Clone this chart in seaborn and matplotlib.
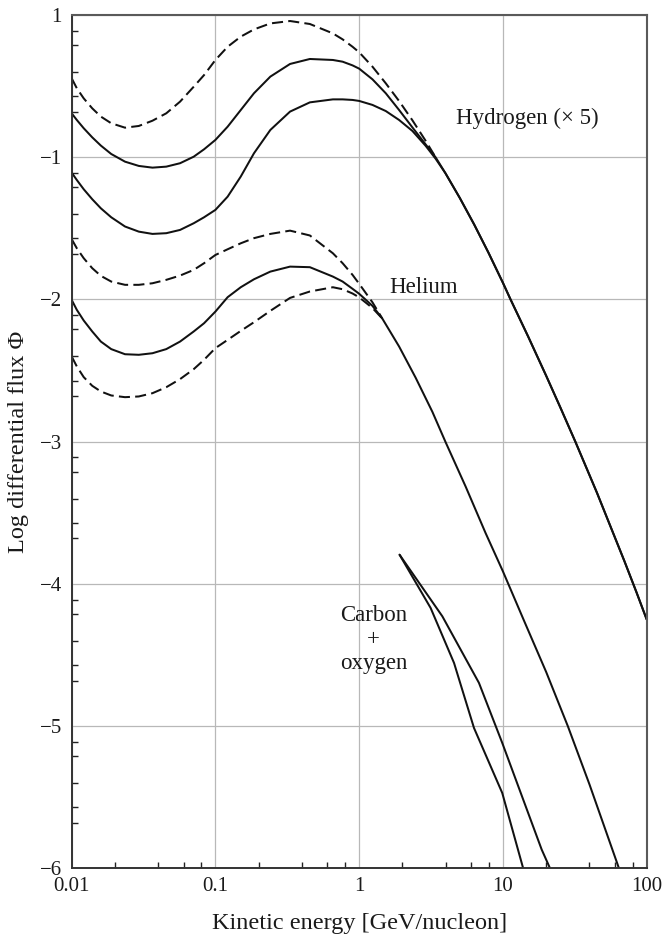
import pandas as pd
import matplotlib
matplotlib.use("Agg")
import matplotlib.pyplot as plt
from matplotlib.ticker import FixedLocator, NullFormatter
import seaborn as sns

# ---- spectra: kinetic energy [GeV/nucleon] vs log differential flux ----
# energies at which the low-energy (modulated) part of the curves is tabulated
E_low = [0.0100, 0.01086, 0.01213, 0.01390, 0.01596, 0.01884, 0.02350, 0.02931,
         0.03648, 0.04550, 0.05675, 0.07063, 0.08337, 0.1000, 0.1216, 0.1500,
         0.1854, 0.2410, 0.3304, 0.4539, 0.6561]

# Hydrogen (x5): maximum, intermediate and minimum solar modulation
h_max_y = [-0.445, -0.515, -0.586, -0.656, -0.714, -0.761, -0.792, -0.780, -0.743,
           -0.691, -0.609, -0.504, -0.422, -0.316, -0.223, -0.152, -0.101, -0.059,
           -0.042, -0.063, -0.129]
h_mid_y = [-0.691, -0.738, -0.796, -0.860, -0.918, -0.977, -1.031, -1.061, -1.073,
           -1.066, -1.042, -0.996, -0.944, -0.878, -0.785, -0.668, -0.550, -0.433,
           -0.344, -0.309, -0.316]
h_min_y = [-1.108, -1.160, -1.225, -1.295, -1.359, -1.422, -1.487, -1.523, -1.539,
           -1.534, -1.511, -1.464, -1.422, -1.370, -1.277, -1.136, -0.972, -0.808,
           -0.679, -0.614, -0.593]

# hydrogen between the peak and the point where the three curves join
E_h_fall = [0.767, 0.899, 1.0, 1.237, 1.531, 1.896, 2.345, 2.902, 3.4]
h_max_fall = [-0.171, -0.223, -0.262, -0.363, -0.480, -0.605, -0.740, -0.885, -1.0]
h_mid_fall = [-0.328, -0.354, -0.377, -0.452, -0.550, -0.668, -0.790, -0.910, -1.0]
h_min_fall = [-0.593, -0.597, -0.604, -0.632, -0.675, -0.738, -0.815, -0.920, -1.010]

# unmodulated high-energy hydrogen
E_h_tail = [3.98, 5.01, 6.31, 7.94, 10.0, 11.3, 15.0, 20.0, 25.0, 31.9, 45.0, 70.0, 85.0, 100.0]
h_tail_y = [-1.112, -1.286, -1.473, -1.672, -1.883, -2.0, -2.262, -2.537, -2.756, -3.0,
            -3.357, -3.84, -4.06, -4.25]

# Helium: maximum, intermediate and minimum solar modulation
he_max_y = [-1.576, -1.640, -1.710, -1.780, -1.834, -1.874, -1.897, -1.897, -1.886,
            -1.862, -1.832, -1.792, -1.745, -1.687, -1.647, -1.605, -1.569, -1.539,
            -1.516, -1.550, -1.675]
he_mid_y = [-2.003, -2.073, -2.148, -2.225, -2.296, -2.349, -2.385, -2.389, -2.378,
            -2.349, -2.296, -2.225, -2.167, -2.085, -1.984, -1.914, -1.858, -1.804,
            -1.769, -1.773, -1.839]
he_min_y = [-2.401, -2.471, -2.546, -2.607, -2.647, -2.675, -2.687, -2.682, -2.659,
            -2.617, -2.560, -2.490, -2.424, -2.342, -2.284, -2.221, -2.160, -2.080,
            -1.989, -1.944, -1.914]

E_he_fall = [0.767, 0.899, 1.0, 1.237]
he_max_fall = [-1.745, -1.827, -1.890, -2.020]
he_mid_fall = [-1.874, -1.925, -1.960, -2.045]
he_min_fall = [-1.928, -1.958, -1.985, -2.060]

# unmodulated high-energy helium
E_he_tail = [1.45, 1.896, 2.47, 3.23, 3.99, 5.5, 7.57, 10.0, 13.9, 20.0, 28.3, 40.0, 64.0]
he_tail_y = [-2.135, -2.331, -2.55, -2.79, -3.003, -3.315, -3.642, -3.912, -4.25, -4.62,
             -5.001, -5.41, -5.997]

# Carbon + oxygen
co_a_E = [1.91, 3.79, 6.81, 9.89, 18.6, 21.2]
co_a_y = [-3.795, -4.228, -4.696, -5.118, -5.868, -5.997]
co_b_E = [1.91, 3.14, 4.57, 6.29, 9.89, 13.9]
co_b_y = [-3.795, -4.169, -4.556, -5.013, -5.47, -6.008]

x_ticks = [0.01, 0.1, 1, 10, 100]
x_ticklabels = ["0.01", "0.1", "1", "10", "100"]
y_ticks = [0, -1, -2, -3, -4, -5, -6]
y_ticklabels = ["1", "\u22121", "\u22122", "\u22123", "\u22124", "\u22125", "\u22126"]

# ---- styling ----
sns.set_theme(style="white")
plt.rcParams["font.family"] = ["Liberation Serif", "DejaVu Serif"]

fig = plt.figure(figsize=(6.63, 9.34), dpi=100)
ax = fig.add_axes([0.1081, 0.0703, 0.8673, 0.9136])

ink = "#111111"
lw = 1.45
dash = (0, (5.5, 2.6))


def curve(E, y, dashed=False):
    df = pd.DataFrame({"E": E, "y": y})
    sns.lineplot(data=df, x="E", y="y", ax=ax, color=ink, lw=lw,
                 linestyle=dash if dashed else "-", sort=False,
                 estimator=None, legend=False)


# hydrogen
curve(E_low + E_h_fall, h_max_y + h_max_fall, dashed=True)
curve(E_low + E_h_fall + E_h_tail, h_mid_y + h_mid_fall + h_tail_y)
curve(E_low + E_h_fall + E_h_tail, h_min_y + h_min_fall + h_tail_y)
# helium
curve(E_low + E_he_fall + E_he_tail[:1], he_max_y + he_max_fall + he_tail_y[:1], dashed=True)
curve(E_low + E_he_fall + E_he_tail[:1], he_min_y + he_min_fall + he_tail_y[:1], dashed=True)
curve(E_low + E_he_fall + E_he_tail, he_mid_y + he_mid_fall + he_tail_y)
# carbon + oxygen
curve(co_a_E, co_a_y)
curve(co_b_E, co_b_y)

ax.set_xscale("log")
ax.set_xlim(0.01, 100)
ax.set_ylim(-6, 0)

ax.set_xticks(x_ticks)
ax.set_xticklabels(x_ticklabels)
ax.set_yticks(y_ticks)
ax.set_yticklabels(y_ticklabels)

minor_x = [m * 10.0 ** d for d in range(-2, 2) for m in (2, 4, 6, 8)]
ax.xaxis.set_minor_locator(FixedLocator(minor_x))
ax.xaxis.set_minor_formatter(NullFormatter())
minor_y = [n - f for n in range(0, -6, -1) for f in (0.11, 0.21, 0.40, 0.57, 0.68)]
ax.yaxis.set_minor_locator(FixedLocator(minor_y))

ax.tick_params(which="major", length=0, labelsize=15, colors="#1a1a1a")
ax.tick_params(axis="x", which="major", pad=6.5)
ax.tick_params(axis="y", which="major", pad=7)
ax.tick_params(which="minor", direction="in", length=4.2, width=1.0, color="#222222",
               bottom=True, left=True, top=False, right=False)

ax.grid(True, which="major", color="#b8b8b8", lw=0.9)
ax.set_axisbelow(True)

for side in ("left", "bottom"):
    ax.spines[side].set_color("#333333")
    ax.spines[side].set_linewidth(1.4)
for side in ("top", "right"):
    ax.spines[side].set_color("#5a5a5a")
    ax.spines[side].set_linewidth(1.5)

ax.set_xlabel("Kinetic energy [GeV/nucleon]", fontsize=17.5, labelpad=12, color="#1a1a1a")
ax.set_ylabel("Log differential flux \u03a6", fontsize=17.5, labelpad=8, color="#1a1a1a")

txt = dict(fontsize=16.5, color="#1a1a1a")
ax.text(4.69, -0.766, "Hydrogen (\u00d7 5)", ha="left", va="baseline", **txt)
ax.text(1.62, -1.956, "Helium", ha="left", va="baseline", **txt)
ax.text(1.256, -4.39, "Carbon\n+\noxygen", ha="center", va="center",
        multialignment="center", linespacing=1.18, **txt)

fig.savefig("out.png", dpi=100)
